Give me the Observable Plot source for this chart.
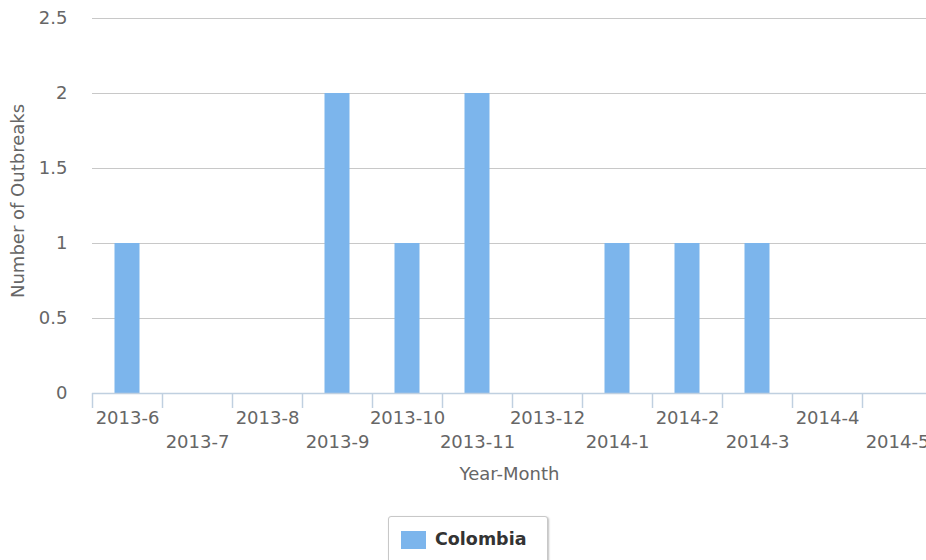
<!DOCTYPE html>
<html>
<head>
<meta charset="utf-8">
<script src="https://cdn.jsdelivr.net/npm/d3@7"></script>
<script src="https://cdn.jsdelivr.net/npm/@observablehq/plot@0.6"></script>
<style>
  html, body { margin: 0; padding: 0; background: #fff; overflow: hidden; width: 926px; height: 560px; }
  #chart { position: absolute; left: 0; top: 0; }
  #legend {
    position: absolute; left: 388px; top: 516px; width: 160px; height: 54px;
    box-sizing: border-box; border: 1px solid #c8c8c8; border-radius: 3px;
    box-shadow: 1px 1px 2px rgba(0,0,0,0.25); background: #fff;
    font-family: "DejaVu Sans", sans-serif; font-weight: bold; font-size: 17.5px; color: #333;
  }
  #legend .sym { position: absolute; left: 12px; top: 14px; width: 25px; height: 18px; }
  #legend .lab { position: absolute; left: 46px; top: 11px; line-height: 22px; }
</style>
</head>
<body>
<div id="chart"></div>
<div id="legend"><span class="sym"></span><span class="lab"></span></div>
<script>
const months = ["2013-6","2013-7","2013-8","2013-9","2013-10","2013-11","2013-12","2014-1","2014-2","2014-3","2014-4","2014-5"];
const outbreaks = [1, 0, 0, 2, 1, 2, 0, 1, 1, 1, 0, 0];
const yTicks = [0, 0.5, 1, 1.5, 2, 2.5];
const seriesName = "Colombia";
const barColor = "#7cb5ec";

const data = months.map((m, i) => ({month: m, value: outbreaks[i]}));
const rowA = months.filter((m, i) => i % 2 === 0);
const rowB = months.filter((m, i) => i % 2 === 1);

const xRange = [92, 932];
const step = (xRange[1] - xRange[0]) / months.length;
const fs = 18;

const chart = Plot.plot({
  width: 926,
  height: 500,
  marginLeft: 92,
  marginRight: 0,
  marginTop: 18,
  marginBottom: 107,
  style: {fontFamily: "DejaVu Sans, sans-serif", fontSize: fs + "px", color: "#666", background: "#fff"},
  x: {type: "band", domain: months, range: xRange, padding: 0},
  y: {domain: [0, 2.5], range: [393, 18]},
  marks: [
    Plot.gridY({ticks: yTicks, stroke: "#c8c8c8", strokeOpacity: 1}),
    Plot.barY(data, {x: "month", y: "value", fill: barColor, insetLeft: 22.5, insetRight: 22.5}),
    Plot.ruleY([0], {stroke: "#c0d0e0", strokeWidth: 1.5}),
    Plot.ruleX(months, {x: d => d, y1: 0, y2: -0.1, stroke: "#c0d0e0", strokeWidth: 1.5, dx: -step / 2}),
    Plot.axisY({ticks: yTicks, tickSize: 0, tickPadding: 25, tickFormat: d => String(d), label: null, fill: "#666", fontSize: fs}),
    Plot.axisX({ticks: rowA, tickSize: 0, tickPadding: 18, label: null, fill: "#666", fontSize: fs}),
    Plot.axisX({ticks: rowB, tickSize: 0, tickPadding: 42, label: null, fill: "#666", fontSize: fs}),
    Plot.text(["Year-Month"], {text: d => d, frameAnchor: "bottom", dy: 81, lineAnchor: "middle", fill: "#666", fontSize: fs}),
    Plot.text(["Number of Outbreaks"], {text: d => d, frameAnchor: "left", textAnchor: "middle", rotate: -90, dx: -74, dy: -5, lineAnchor: "middle", fill: "#666", fontSize: fs})
  ]
});
document.getElementById("chart").appendChild(chart);
document.querySelector("#legend .sym").style.background = barColor;
document.querySelector("#legend .lab").textContent = seriesName;
</script>
</body>
</html>
